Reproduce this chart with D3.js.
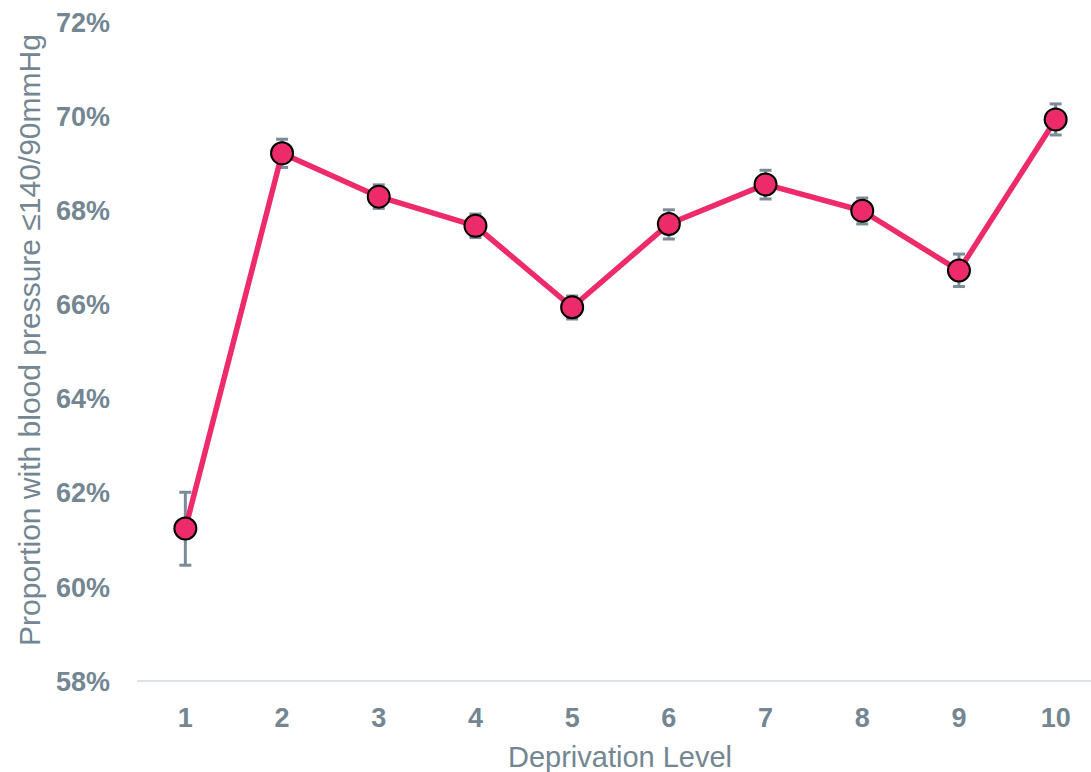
<!DOCTYPE html>
<html>
<head>
<meta charset="utf-8">
<script src="https://cdn.jsdelivr.net/npm/d3@7"></script>
<style>
  body { margin: 0; background: #fff; }
  text { font-family: "Liberation Sans", Arial, sans-serif; }
</style>
</head>
<body>
<div id="chart"></div>
<script>
// Data
var levels = ['1', '2', '3', '4', '5', '6', '7', '8', '9', '10'];
var proportion = [61.24, 69.21, 68.29, 67.67, 65.94, 67.71, 68.55, 67.99, 66.72, 69.93];
var upper = [62.01, 69.51, 68.54, 67.92, 66.18, 68.01, 68.85, 68.26, 67.07, 70.26];
var lower = [60.46, 68.91, 68.04, 67.42, 65.69, 67.39, 68.24, 67.71, 66.38, 69.60];
var yTicks = [58, 60, 62, 64, 66, 68, 70, 72];

var width = 1091,
    height = 772,
    textColor = '#738692',
    lineColor = '#ED2B6A',
    errColor = '#7B8C98';

var data = levels.map(function (d, i) {
    return { level: d, value: proportion[i], hi: upper[i], lo: lower[i] };
});

var svg = d3.select('#chart').append('svg')
    .attr('width', width)
    .attr('height', height);

var x = d3.scaleBand().domain(levels).range([137, 1104]);
var y = d3.scaleLinear().domain([58, 72]).range([681, 22]);

// baseline
svg.append('line')
    .attr('x1', 137).attr('x2', width)
    .attr('y1', y(58)).attr('y2', y(58))
    .attr('stroke', '#DDE2E6')
    .attr('stroke-width', 2);

// y tick labels
svg.append('g').selectAll('text')
    .data(yTicks)
    .enter().append('text')
    .attr('x', 110)
    .attr('y', function (d) { return y(d); })
    .attr('dy', '0.36em')
    .attr('text-anchor', 'end')
    .attr('fill', textColor)
    .style('font-size', '27px')
    .style('font-weight', 'bold')
    .text(function (d) { return d + '%'; });

// x tick labels
svg.append('g').selectAll('text')
    .data(levels)
    .enter().append('text')
    .attr('x', function (d) { return x(d) + x.bandwidth() / 2; })
    .attr('y', 727)
    .attr('text-anchor', 'middle')
    .attr('fill', textColor)
    .style('font-size', '27px')
    .style('font-weight', 'bold')
    .text(function (d) { return d; });

// axis titles
svg.append('text')
    .attr('x', 620)
    .attr('y', 767)
    .attr('text-anchor', 'middle')
    .attr('fill', textColor)
    .style('font-size', '29px')
    .text('Deprivation Level');

svg.append('text')
    .attr('transform', 'translate(40,' + 340 + ') rotate(-90)')
    .attr('text-anchor', 'middle')
    .attr('fill', textColor)
    .style('font-size', '30px')
    .text('Proportion with blood pressure \u2264140/90mmHg');

var cx = function (d) { return x(d.level) + x.bandwidth() / 2; };

// error bars
var err = svg.append('g').selectAll('g')
    .data(data)
    .enter().append('g')
    .attr('stroke', errColor)
    .attr('stroke-width', 3);

err.append('line')
    .attr('x1', cx).attr('x2', cx)
    .attr('y1', function (d) { return y(d.hi); })
    .attr('y2', function (d) { return y(d.lo); });

err.append('line')
    .attr('x1', function (d) { return cx(d) - 6; })
    .attr('x2', function (d) { return cx(d) + 6; })
    .attr('y1', function (d) { return y(d.hi); })
    .attr('y2', function (d) { return y(d.hi); });

err.append('line')
    .attr('x1', function (d) { return cx(d) - 6; })
    .attr('x2', function (d) { return cx(d) + 6; })
    .attr('y1', function (d) { return y(d.lo); })
    .attr('y2', function (d) { return y(d.lo); });

// line
var line = d3.line()
    .x(cx)
    .y(function (d) { return y(d.value); });

svg.append('path')
    .datum(data)
    .attr('d', line)
    .attr('fill', 'none')
    .attr('stroke', lineColor)
    .attr('stroke-width', 5.5)
    .attr('stroke-linejoin', 'round');

// points
svg.append('g').selectAll('circle')
    .data(data)
    .enter().append('circle')
    .attr('cx', cx)
    .attr('cy', function (d) { return y(d.value); })
    .attr('r', 11)
    .attr('fill', lineColor)
    .attr('stroke', '#000')
    .attr('stroke-width', 2);
</script>
</body>
</html>
